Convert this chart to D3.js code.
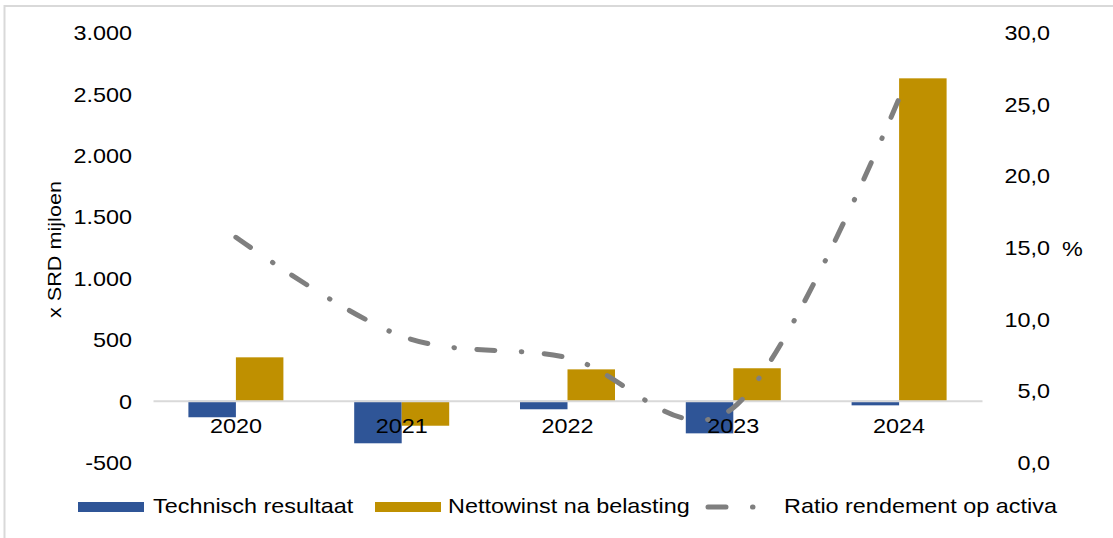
<!DOCTYPE html>
<html>
<head>
<meta charset="utf-8">
<script src="https://cdn.jsdelivr.net/npm/d3@7"></script>
<style>
  html, body { margin: 0; padding: 0; background: #fff; }
  svg text { font-family: "Liberation Sans", Arial, sans-serif; fill: #000; }
</style>
</head>
<body>
<svg id="chart" width="1113" height="538"></svg>
<script>
// ---- data ----
const years = ["2020", "2021", "2022", "2023", "2024"];
const technischResultaat = [-134, -346, -69, -265, -37];   // x SRD miljoen
const nettowinst = [354, -203, 256, 265, 2626];            // x SRD miljoen
const ratioRendement = [15.7, 8.8, 7.3, 3.8, 25.4];        // %
const leftTicks = [-500, 0, 500, 1000, 1500, 2000, 2500, 3000];
const rightTicks = [0, 5, 10, 15, 20, 25, 30];
const seriesNames = ["Technisch resultaat", "Nettowinst na belasting", "Ratio rendement op activa"];
const colors = { tech: "#2F5597", netto: "#BF9000", ratio: "#7F7F7F" };

// ---- layout ----
const svg = d3.select("#chart");
const SX = 1.17;              // labels are drawn slightly widened
const FS = 20;                // label font size
const plot = { left: 153, right: 982, top: 32.4, bottom: 462.2 };
const dash = "18,26.5,0.5,22.5";

const nl = d3.formatLocale({ decimal: ",", thousands: ".", grouping: [3], currency: ["", ""], minus: "-" });
const fmtLeft = nl.format(",");
const fmtRight = nl.format(".1f");

// outer frame
svg.append("rect")
  .attr("x", 4.5).attr("y", 6).attr("width", 1200).attr("height", 600)
  .attr("fill", "none").attr("stroke", "#d9d9d9").attr("stroke-width", 2);

// ---- scales ----
const x0 = d3.scaleBand().domain(years).range([plot.left, plot.right])
  .paddingInner(0.427).paddingOuter(0.2135);
const x1 = d3.scaleBand().domain(["tech", "netto"]).range([0, x0.bandwidth()]);
const yL = d3.scaleLinear().domain([-500, 3000]).range([plot.bottom, plot.top]);
const yR = d3.scaleLinear().domain([0, 30]).range([plot.bottom, plot.top]);

// ---- bars ----
const barData = years.map((yr, i) => ({ yr, tech: technischResultaat[i], netto: nettowinst[i] }));
const groups = svg.append("g").selectAll("g").data(barData).join("g")
  .attr("transform", d => `translate(${x0(d.yr)},0)`);
groups.selectAll("rect")
  .data(d => ["tech", "netto"].map(k => ({ k, v: d[k] })))
  .join("rect")
  .attr("x", d => x1(d.k))
  .attr("width", x1.bandwidth())
  .attr("y", d => yL(Math.max(0, d.v)))
  .attr("height", d => Math.abs(yL(d.v) - yL(0)))
  .attr("fill", d => colors[d.k]);

function styleAxis(g) {
  g.attr("font-size", FS).attr("font-family", "'Liberation Sans', Arial, sans-serif");
}

// ---- left axis ----
const gL = svg.append("g").attr("transform", `translate(${plot.left},0)`)
  .call(d3.axisLeft(yL).tickValues(leftTicks).tickSize(0).tickFormat(fmtLeft));
styleAxis(gL);
gL.select(".domain").remove();
gL.selectAll(".tick text")
  .attr("x", -21 / SX).attr("dy", "0.36em")
  .attr("transform", `scale(${SX},1)`);

// ---- right axis ----
const gR = svg.append("g").attr("transform", `translate(${plot.right},0)`)
  .call(d3.axisRight(yR).tickValues(rightTicks).tickSize(0).tickFormat(fmtRight));
styleAxis(gR);
gR.select(".domain").remove();
gR.selectAll(".tick text")
  .attr("text-anchor", "end")
  .attr("x", 68 / SX).attr("dy", "0.36em")
  .attr("transform", `scale(${SX},1)`);

// ---- category axis on the zero line ----
const gB = svg.append("g").attr("transform", `translate(0,${yL(0)})`)
  .call(d3.axisBottom(x0).tickSize(0).tickSizeOuter(0).tickPadding(18));
styleAxis(gB);
gB.select(".domain").attr("stroke", "#d9d9d9").attr("stroke-width", 2);
gB.selectAll(".tick text").attr("transform", `scale(${SX},1)`);

// ---- ratio line ----
const line = d3.line()
  .x((d, i) => x0(years[i]) + x0.bandwidth() / 2)
  .y(d => yR(d))
  .curve(d3.curveCardinal.tension(0));
svg.append("path")
  .datum(ratioRendement)
  .attr("d", line)
  .attr("fill", "none")
  .attr("stroke", colors.ratio)
  .attr("stroke-width", 5)
  .attr("stroke-linecap", "round")
  .attr("stroke-dasharray", dash);

// ---- axis titles ----
svg.append("text")
  .attr("transform", `translate(61,249.5) rotate(-90) scale(${SX},1)`)
  .attr("text-anchor", "middle")
  .attr("font-size", 18.5)
  .text("x SRD mijloen");

svg.append("text")
  .attr("transform", `translate(1062,256) scale(${SX},1)`)
  .attr("font-size", FS)
  .text("%");

// ---- legend ----
const legend = svg.append("g");
legend.append("rect").attr("x", 78).attr("y", 502).attr("width", 66).attr("height", 10).attr("fill", colors.tech);
legend.append("rect").attr("x", 375).attr("y", 502).attr("width", 66).attr("height", 10).attr("fill", colors.netto);
legend.append("line")
  .attr("x1", 708).attr("x2", 774).attr("y1", 507).attr("y2", 507)
  .attr("stroke", colors.ratio).attr("stroke-width", 5)
  .attr("stroke-linecap", "round").attr("stroke-dasharray", dash);
const legendX = [153, 448, 784];
legend.selectAll("text").data(seriesNames).join("text")
  .attr("transform", (d, i) => `translate(${legendX[i]},513) scale(${SX},1)`)
  .attr("font-size", FS)
  .text(d => d);
</script>
</body>
</html>
